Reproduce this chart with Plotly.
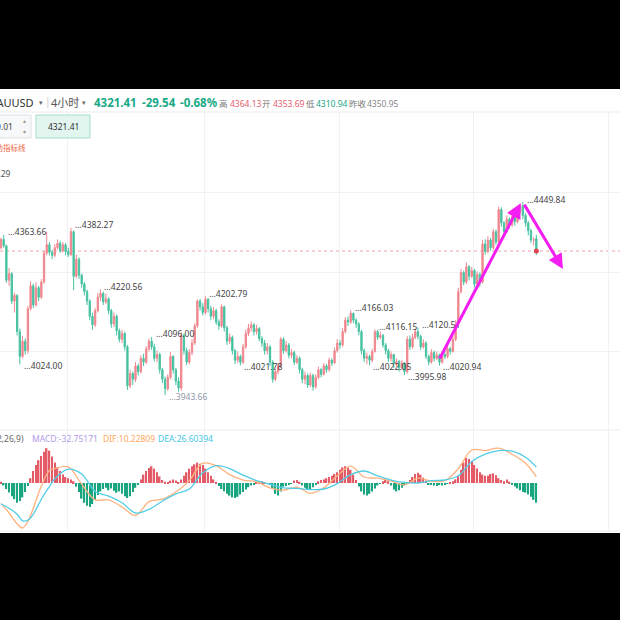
import plotly.graph_objects as go

# 4h candles, XAUUSD
closes = [4352, 4335, 4245, 4262, 4190, 4205, 4110, 4045, 4085, 4060,
          4170, 4230, 4180, 4225, 4200, 4240, 4316, 4338, 4318, 4310,
          4330, 4342, 4322, 4338, 4320, 4312, 4372, 4255, 4300, 4258,
          4235, 4215, 4190, 4150, 4128, 4165, 4200, 4210, 4188, 4196,
          4165, 4130, 4150, 4112, 4090, 4105, 4070, 3968, 4000, 3985,
          4020, 4005, 4040, 4030, 4065, 4085, 4070, 4040, 4050, 4010,
          3985, 3960, 3990, 4045, 4010, 3980, 3962, 4100, 4060, 4030,
          4055, 4080, 4125, 4190, 4175, 4160, 4195, 4170, 4150, 4165,
          4135, 4125, 4175, 4120, 4085, 4095, 4060, 4035, 4045, 4030,
          4070, 4105, 4120, 4128, 4110, 4118, 4092, 4080, 4060, 4070,
          4030, 3985, 4005, 4020, 4090, 4060, 4075, 4048, 4055, 4030,
          4040, 4010, 3985, 3995, 3970, 3995, 3965, 3990, 4010, 3998,
          4020, 4010, 4035, 4028, 4060, 4080, 4075, 4110, 4140, 4135,
          4158, 4140, 4130, 4110, 4060, 4040, 4045, 4035, 4058, 4110,
          4095, 4100, 4075, 4060, 4040, 4050, 4025, 4032, 4015, 4028,
          4005, 4090, 4070, 4095, 4110, 4098, 4070, 4080, 4045, 4030,
          4055, 4040, 4048, 4030, 4050, 4045, 4065, 4058, 4090, 4130,
          4215, 4265, 4240, 4280, 4255, 4270, 4235, 4260, 4240, 4340,
          4320, 4350, 4330, 4372, 4345, 4430, 4395, 4372, 4405, 4390,
          4412, 4398, 4425, 4440, 4415, 4395, 4375, 4350, 4350.95, 4321.41]

highs = [4356, 4363.66, 4338, 4277, 4266, 4212, 4208, 4118, 4098, 4092,
         4178, 4242, 4236, 4240, 4230, 4248, 4322, 4372, 4345, 4325,
         4340, 4352, 4348, 4345, 4342, 4330, 4382.27, 4375, 4312, 4305,
         4262, 4240, 4220, 4195, 4160, 4172, 4212, 4220.56, 4215, 4210,
         4200, 4170, 4160, 4155, 4118, 4115, 4110, 4075, 4010, 4005,
         4030, 4026, 4048, 4052, 4072, 4092, 4096.00, 4078, 4060, 4055,
         4015, 3992, 3998, 4056, 4048, 4015, 3990, 4109, 4105, 4068,
         4064, 4090, 4132, 4195, 4196, 4185, 4202.79, 4198, 4178, 4175,
         4170, 4142, 4182, 4178, 4125, 4105, 4100, 4065, 4058, 4050,
         4078, 4115, 4130, 4136, 4132, 4128, 4122, 4098, 4088, 4080,
         4075, 4035, 4012, 4028, 4096, 4095, 4085, 4080, 4064, 4060,
         4048, 4045, 4015, 4005, 4000, 4002, 4000, 3998, 4018, 4015,
         4028, 4025, 4042, 4040, 4068, 4090, 4088, 4120, 4148, 4150,
         4166.03, 4160, 4145, 4135, 4115, 4066, 4055, 4050, 4065, 4116.15,
         4115, 4110, 4104, 4080, 4065, 4058, 4052, 4040, 4036, 4035,
         4030, 4098, 4100, 4104, 4118, 4120.51, 4102, 4090, 4085, 4050,
         4064, 4060, 4058, 4052, 4058, 4060, 4072, 4070, 4098, 4140,
         4225, 4275, 4270, 4292, 4285, 4280, 4275, 4268, 4265, 4350,
         4352, 4360, 4356, 4380, 4378, 4438, 4436, 4400, 4415, 4410,
         4420, 4418, 4434, 4446, 4449.84, 4420, 4400, 4380, 4358, 4364.13]

lows = [4326, 4330, 4238, 4230, 4182, 4160, 4100, 4024.00, 4040, 4050,
        4052, 4165, 4172, 4176, 4190, 4196, 4236, 4310, 4310, 4300,
        4305, 4325, 4316, 4318, 4310, 4306, 4308, 4219, 4250, 4248,
        4225, 4205, 4180, 4140, 4115, 4122, 4160, 4190, 4180, 4183,
        4155, 4120, 4122, 4100, 4082, 4080, 4060, 3957, 3962, 3970,
        3978, 3995, 4000, 4020, 4025, 4058, 4062, 4032, 4030, 4000,
        3975, 3943.66, 3955, 3985, 4000, 3970, 3952, 3955, 4050, 4022,
        4025, 4048, 4075, 4120, 4165, 4152, 4155, 4160, 4140, 4142,
        4128, 4115, 4120, 4110, 4075, 4078, 4050, 4025, 4028, 4021.78,
        4025, 4065, 4098, 4110, 4100, 4102, 4085, 4070, 4050, 4050,
        4020, 3976, 3980, 3998, 4015, 4052, 4055, 4040, 4040, 4022,
        4025, 4000, 3975, 3972, 3962, 3965, 3955, 3960, 3985, 3990,
        3995, 4002, 4005, 4020, 4025, 4055, 4065, 4070, 4105, 4125,
        4130, 4132, 4120, 4100, 4050, 4030, 4025, 4022.05, 4030, 4055,
        4088, 4090, 4068, 4050, 4030, 4032, 4015, 4018, 4005, 4010,
        3995.98, 4000, 4062, 4065, 4090, 4090, 4062, 4065, 4038, 4022,
        4026, 4032, 4035, 4020.94, 4026, 4038, 4040, 4050, 4055, 4085,
        4125, 4210, 4232, 4235, 4245, 4250, 4226, 4230, 4228, 4236,
        4312, 4315, 4322, 4325, 4338, 4340, 4385, 4362, 4368, 4380,
        4385, 4388, 4394, 4420, 4405, 4385, 4362, 4342, 4336, 4310.94]

first_open = 4330
last_open = 4353.69   # header: 开
prev_close = 4350.95  # header: 昨收
change = -29.54
change_pct = -0.68

# MACD(12,26,9) histogram, one value per candle
macd_hist = [2, -4, -10, -16, -22, -27, -33, -30, -24, -15,
             -5, 8, 20, 30, 38, 45, 52, 58, 54, 44,
             34, 26, 20, 14, 10, 8, 6, 3, -6, -15,
             -26, -33, -38, -40, -35, -28, -20, -14, -10, -8,
             -12, -9, -13, -16, -14, -18, -22, -25, -22, -15,
             -8, -2, 6, 14, 20, 25, 28, 24, 18, 11,
             5, 2, 1, 4, 6, 4, 1, 6, 12, 18,
             24, 28, 31, 34, 32, 30, 24, 18, 12, 6,
             1, -5, -10, -14, -18, -21, -24, -25, -23, -19,
             -15, -11, -7, -4, -2, 1, 2, 3, 1, -1,
             -3, -10, -18, -21, -14, -6, -5, -3, -1, 4,
             5, 2, -4, -8, -11, -10, -7, -3, 3, 5,
             6, 8, 10, 12, 15, 18, 22, 26, 28, 26,
             22, 14, 5, -6, -14, -19, -21, -18, -14, -9,
             -4, -1, 3, 5, 3, -4, -11, -14, -12, -8,
             -4, -1, 5, 10, 15, 17, 14, 9, 4, -2,
             -3, -4, -5, -3, -4, -2, -1, 1, 3, 6,
             12, 22, 34, 42, 40, 36, 30, 24, 18, 14,
             12, 12, 15, 16, 13, 8, 5, 3, 6, 2,
             -3, -6, -9, -12, -15, -16, -19, -23, -28, -32.75171]

# DIF / DEA read at these candles
macd_idx = [0, 3, 6, 8, 10, 12, 15, 18, 20, 25, 30, 35, 40, 45, 50, 55, 60, 65, 70, 75,
            80, 85, 90, 95, 100, 105, 110, 115, 120, 125, 130, 135, 140, 145, 150, 155,
            160, 165, 170, 175, 180, 185, 190, 195, 199]
dif = [-34, -50, -68, -75, -64, -42, -5, 21, 24, 27, -2, -28, -28, -40, -54, -31, -27, -15, 4, 33,
       29, 14, 5, 2, -8, -12, -7, -17, -8, 12, 28, 10, 8, 3, -3, 8,
       3, 4, 24, 55, 54, 58, 48, 33, 10.22809]
dea = [-35, -42, -52, -63, -62, -52, -27, -6, 7, 23, 15, -14, -22, -33, -50, -44, -30, -18, -10, 17,
       29, 24, 13, 4, -2, -8, -9, -11, -10, -1, 14, 20, 12, 5, 1, 0,
       4, 5, 12, 36, 48, 54, 53, 43, 26.60394]

# swing labels (candle, price)
peak_labels = [(1, 4363.66), (26, 4382.27), (37, 4220.56), (56, 4096.00), (76, 4202.79),
               (130, 4166.03), (139, 4116.15), (155, 4120.51), (194, 4449.84)]
trough_labels = [(7, 4024.00), (61, 3943.66), (89, 4021.78), (137, 4022.05),
                 (150, 3995.98), (163, 4020.94)]

# hand drawn arrows (candle, price)
arrow_path = [(162.8, 4035.5), (193.2, 4447), (194.2, 4447), (208.9, 4274)]

opens = [first_open] + closes[:-1]
opens[-1] = last_open
idx = list(range(len(closes)))

UP = '#F0878F'
DOWN = '#47C2A1'
FONT = 'Noto Sans, Noto Sans CJK SC, sans-serif'
GRID = '#f0f1f4'


def py(y):
    return 1 - y / 620


def px(x):
    return x / 620


def txt(x, y, s, size=9, color='#333', anchor='left'):
    return dict(x=px(x), y=py(y), xref='paper', yref='paper', text=s, showarrow=False,
                xanchor=anchor, yanchor='middle', font=dict(size=size, color=color, family=FONT))


fig = go.Figure()
fig.add_trace(go.Candlestick(
    x=idx, open=opens, high=highs, low=lows, close=closes,
    increasing=dict(line=dict(color=UP, width=1), fillcolor=UP),
    decreasing=dict(line=dict(color=DOWN, width=1), fillcolor=DOWN),
    hoverinfo='skip', showlegend=False, xaxis='x', yaxis='y'))

fig.add_trace(go.Scatter(x=[idx[-1]], y=[closes[-1]], mode='markers',
                         marker=dict(size=5, color='#E2454D'), hoverinfo='skip',
                         xaxis='x', yaxis='y'))

bar_colors = ['#E35B67' if v >= 0 else '#1AA581' for v in macd_hist]
fig.add_trace(go.Bar(x=idx, y=macd_hist, marker=dict(color=bar_colors, line=dict(width=0)),
                     width=0.55, hoverinfo='skip', xaxis='x2', yaxis='y2'))
fig.add_trace(go.Scatter(x=macd_idx, y=dif, mode='lines',
                         line=dict(color='#FFB27E', width=1.3, shape='spline'),
                         hoverinfo='skip', xaxis='x2', yaxis='y2'))
fig.add_trace(go.Scatter(x=macd_idx, y=dea, mode='lines',
                         line=dict(color='#52CDE6', width=1.3, shape='spline'),
                         hoverinfo='skip', xaxis='x2', yaxis='y2'))

grid_x = [24.9, 75.5, 125.7, 175.8, 226.0]
xr = [-0.37, 230.1]

fig.update_layout(
    width=620, height=620, margin=dict(l=0, r=0, t=0, b=0),
    paper_bgcolor='black', plot_bgcolor='white', showlegend=False,
    font=dict(family=FONT),
    xaxis=dict(domain=[0, 1], range=xr, anchor='y', tickvals=grid_x, showticklabels=False,
               showgrid=True, gridcolor=GRID, zeroline=False, rangeslider=dict(visible=False)),
    yaxis=dict(domain=[py(430), py(112)], range=[3852, 4686], tickvals=[4476, 4266, 4059],
               showticklabels=False, showgrid=True, gridcolor=GRID, zeroline=False),
    xaxis2=dict(domain=[0, 1], range=xr, anchor='y2', tickvals=grid_x, showticklabels=False,
                showgrid=True, gridcolor=GRID, zeroline=False),
    yaxis2=dict(domain=[py(531), py(431)], range=[-80, 86.7], showticklabels=False,
                showgrid=False, zeroline=False),
)

shapes = [
    dict(type='rect', xref='paper', yref='paper', x0=0, x1=1, y0=py(533), y1=py(89),
         fillcolor='white', line=dict(width=0), layer='below'),
    dict(type='line', xref='paper', yref='y', x0=0, x1=1, y0=closes[-1], y1=closes[-1],
         line=dict(color='#F3A3A6', width=1, dash='dot'), layer='below'),
]
for yl in [112, 430, 531]:
    shapes.append(dict(type='line', xref='paper', yref='paper', x0=0, x1=1, y0=py(yl), y1=py(yl),
                       line=dict(color='#ececef', width=1)))
# input boxes in the header
shapes.append(dict(type='rect', xref='paper', yref='paper', x0=px(-6), x1=px(31), y0=py(138), y1=py(115),
                   fillcolor='#f7f8fa', line=dict(color='#dfe1e6', width=1)))
shapes.append(dict(type='rect', xref='paper', yref='paper', x0=px(36), x1=px(90), y0=py(138), y1=py(115),
                   fillcolor='#e2f5ef', line=dict(color='#a6dfcd', width=1)))
fig.update_layout(shapes=shapes)

ann = [
    txt(36, 102, 'XAUUSD', 11, '#333', 'right'),
    txt(37, 102, '▾', 7, '#666'),
    txt(43, 101, '|', 10, '#ccc'),
    txt(49, 102, '4小时', 11, '#555'),
    txt(80, 102, '▾', 7, '#666'),
    txt(92, 102, '<b>%.2f</b>' % closes[-1], 11.5, '#19A986'),
    txt(140, 102, '<b>%.2f</b>' % change, 11.5, '#19A986'),
    txt(178, 102, '<b>%.2f%%</b>' % change_pct, 11.5, '#19A986'),
    txt(217, 103, '高', 8.5, '#777'),
    txt(228, 103, '%.2f' % highs[-1], 8.5, '#E4606B'),
    txt(260, 103, '开', 8.5, '#777'),
    txt(271, 103, '%.2f' % last_open, 8.5, '#E4606B'),
    txt(304, 103, '低', 8.5, '#777'),
    txt(314, 103, '%.2f' % lows[-1], 8.5, '#19A986'),
    txt(347, 103, '昨收', 8.5, '#777'),
    txt(365, 103, '%.2f' % prev_close, 8.5, '#888'),
    txt(15, 126, '0.01', 8.5, '#444', 'right'),
    txt(21, 121, '▴', 6, '#999'),
    txt(21, 132, '▾', 6, '#999'),
    txt(63, 126.5, '%.2f' % closes[-1], 8.5, '#333', 'center'),
    txt(28, 148, '辅助指标线', 7.5, '#F0683F', 'right'),
    txt(13, 173, '4338.29', 8.5, '#555', 'right'),
    txt(26, 439, 'MACD(12,26,9)', 8.5, '#666', 'right'),
    txt(30, 439, 'MACD:%.5f' % macd_hist[-1], 8.5, '#B39AE8'),
    txt(101, 439, 'DIF:%.5f' % dif[-1], 8.5, '#FFA860'),
    txt(156, 439, 'DEA:%.5f' % dea[-1], 8.5, '#45C6E6'),
]

for i, p in peak_labels:
    ann.append(dict(x=i + 0.7, y=p, xref='x', yref='y', text='...%.2f' % p, showarrow=False,
                    xanchor='left', yanchor='middle', yshift=3,
                    font=dict(size=8.5, color='#444', family=FONT)))
for i, p in trough_labels:
    col = '#8E95A5' if p == min(lows) else '#444'
    ann.append(dict(x=i + 0.7, y=p, xref='x', yref='y', text='...%.2f' % p, showarrow=False,
                    xanchor='left', yanchor='middle', yshift=-1,
                    font=dict(size=8.5, color=col, family=FONT)))

for (x0, y0), (x1, y1) in [(arrow_path[0], arrow_path[1]), (arrow_path[2], arrow_path[3])]:
    ann.append(dict(x=x1, y=y1, ax=x0, ay=y0, xref='x', yref='y', axref='x', ayref='y',
                    text='', showarrow=True, arrowhead=2, arrowsize=1, arrowwidth=3,
                    arrowcolor='#F41EF2', standoff=0))

fig.update_layout(annotations=ann)

# the page's default 8px body margin would shift the figure
fig.write_html("out.html", config={'displayModeBar': False},
               post_script="document.body.style.margin='0';")
